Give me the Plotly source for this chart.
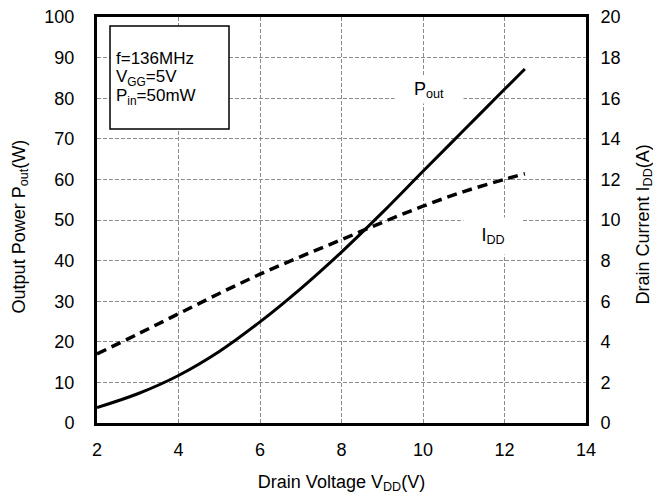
import plotly.graph_objects as go

vdd = [2, 3, 4, 5, 6, 7, 8, 9, 10, 11, 12, 12.5]
pout = [3.8, 7.2, 11.7, 17.6, 24.9, 33.1, 42.1, 51.8, 62.0, 72.1, 82.2, 87.2]
idd = [3.4, 4.38, 5.38, 6.38, 7.33, 8.2, 9.03, 9.88, 10.68, 11.4, 12.0, 12.28]

x_ticks = [2, 4, 6, 8, 10, 12, 14]
y1_ticks = [0, 10, 20, 30, 40, 50, 60, 70, 80, 90, 100]
y2_ticks = [0, 2, 4, 6, 8, 10, 12, 14, 16, 18, 20]

FONT = "Liberation Sans, Arial, sans-serif"
GRID = dict(showgrid=True, gridcolor="#8c8c8c", gridwidth=1, griddash="4px,2px")

fig = go.Figure()
fig.add_trace(go.Scatter(x=vdd, y=pout, mode="lines",
                         line=dict(color="black", width=3, shape="spline"),
                         yaxis="y", showlegend=False))
fig.add_trace(go.Scatter(x=vdd, y=idd, mode="lines",
                         line=dict(color="black", width=3.5, dash="10px,6px", shape="spline"),
                         yaxis="y2", showlegend=False))

# page body has an 8px margin, so the figure is 8px smaller and offset
fig.update_layout(
    width=653, height=489,
    margin=dict(l=89, r=75, t=9, b=74),
    paper_bgcolor="white", plot_bgcolor="white",
    font=dict(family=FONT, color="black", size=18),
    xaxis=dict(range=[2, 14], tickvals=x_ticks, ticks="", ticklabelstandoff=8,
               showline=True, linecolor="black", linewidth=3, mirror=True,
               zeroline=False, tickfont=dict(size=18), automargin=False,
               ticklabeloverflow="allow",
               title=dict(text="Drain Voltage V<sub>DD</sub>(V)", font=dict(size=18), standoff=17),
               **GRID),
    yaxis=dict(range=[0, 100], tickvals=y1_ticks, ticks="", ticklabelstandoff=16,
               showline=True, linecolor="black", linewidth=3, mirror=False,
               zeroline=False, tickfont=dict(size=18), automargin=False,
               ticklabeloverflow="allow",
               **GRID),
    yaxis2=dict(range=[0, 20], tickvals=y2_ticks, ticks="", ticklabelstandoff=8,
                overlaying="y", side="right", automargin=False,
                showline=True, linecolor="black", linewidth=3,
                ticklabeloverflow="allow",
                showgrid=False, zeroline=False, tickfont=dict(size=18)),
)

# axis titles
fig.add_annotation(xref="paper", yref="paper", x=(12.5 - 89) / 489, y=0.483,
                   text="Output Power P<sub>out</sub>(W)", textangle=-90, showarrow=False,
                   xanchor="center", yanchor="middle", font=dict(size=18, family=FONT))
fig.add_annotation(xref="paper", yref="paper", x=(636.6 - 89) / 489, y=0.488,
                   text="Drain Current I<sub>DD</sub>(A)", textangle=-90, showarrow=False,
                   xanchor="center", yanchor="middle", font=dict(size=18, family=FONT))

# info box
fig.add_shape(type="rect", xref="paper", yref="paper",
              x0=(110 - 97) / 489, x1=(229 - 97) / 489,
              y0=(423 - 129) / 406, y1=(423 - 26) / 406,
              line=dict(color="black", width=1.5), fillcolor="white", layer="above")
for txt, ypx in [("f=136MHz", 59), ("V<sub>GG</sub>=5V", 78), ("P<sub>in</sub>=50mW", 97)]:
    fig.add_annotation(xref="paper", yref="paper", x=(114 - 97) / 489, y=(423 - ypx) / 406,
                       xanchor="left", yanchor="middle", text=txt, showarrow=False,
                       font=dict(size=17, family=FONT))

fig.add_annotation(x=10.15, y=82.0, text="P<sub>out</sub>", showarrow=False, bgcolor="white",
                   width=66, height=24, font=dict(size=18, family=FONT))
fig.add_annotation(x=11.72, y=46.0, text="I<sub>DD</sub>", showarrow=False, bgcolor="white",
                   width=56, height=34, font=dict(size=18, family=FONT))

fig.write_html("out.html")
